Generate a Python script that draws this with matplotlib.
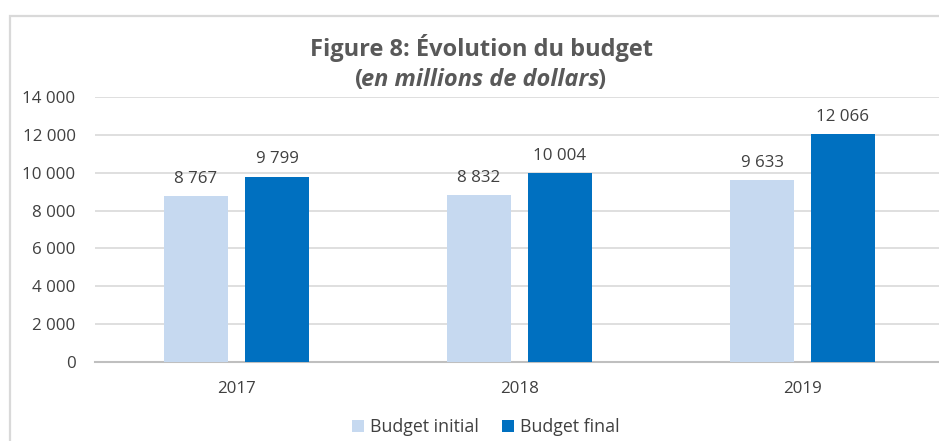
import matplotlib.pyplot as plt
import numpy as np
from matplotlib.patches import Rectangle

plt.rcParams['font.family'] = ['Open Sans', 'DejaVu Sans']

years = ['2017', '2018', '2019']
budget_initial = [8767, 8832, 9633]
budget_final = [9799, 10004, 12066]
yticks = [0, 2000, 4000, 6000, 8000, 10000, 12000, 14000]


def fmt(v):
    return f'{v:,}'.replace(',', ' ')


fig = plt.figure(figsize=(9.39, 4.41), dpi=100)
# frame around the chart (runs off the right and bottom edges)
fig.patches.append(Rectangle((9.5 / 939, -0.1), 1.1, 1 - 15.5 / 441 + 0.1,
                             transform=fig.transFigure, fill=False,
                             edgecolor='#d9d9d9', linewidth=1.6))

ax = fig.add_axes([95 / 939, 1 - 362 / 441, 849 / 939, 265 / 441])
x = np.arange(len(years))
w = 0.224
off = 0.143
light = '#c6d9f0'
dark = '#0070c0'
txt = '#404040'
b1 = ax.bar(x - off, budget_initial, w, color=light, label='Budget initial', zorder=3)
b2 = ax.bar(x + off, budget_final, w, color=dark, label='Budget final', zorder=3)

for bars, vals in ((b1, budget_initial), (b2, budget_final)):
    for r, v in zip(bars, vals):
        ax.text(r.get_x() + r.get_width() / 2, v + 480, fmt(v),
                ha='center', va='bottom', fontsize=12.2, color=txt)

ax.set_xlim(-0.5, 2.5)
ax.set_ylim(0, 14000)
ax.set_yticks(yticks)
ax.set_yticklabels([fmt(t) for t in yticks])
ax.set_xticks(x)
ax.set_xticklabels(years)
ax.tick_params(length=0, labelsize=12.2, labelcolor=txt)
ax.tick_params(axis='x', pad=14)
ax.tick_params(axis='y', pad=14)
ax.grid(axis='y', color='#d9d9d9', linewidth=1.2, zorder=0)
for s in ['top', 'right', 'left']:
    ax.spines[s].set_visible(False)
ax.spines['bottom'].set_color('#bfbfbf')
ax.spines['bottom'].set_linewidth(1.5)

title_col = '#595959'
fig.text(481.5 / 939, 1 - 48 / 441, 'Figure 8: Évolution du budget',
         ha='center', va='center', fontsize=17, fontweight='bold', color=title_col)
mid = fig.text(480 / 939, 1 - 80 / 441, 'en millions de dollars',
               ha='center', va='center', fontsize=17, fontweight='bold',
               fontstyle='italic', color=title_col)
ax.annotate('(', xy=(0, 0.5), xycoords=mid, ha='right', va='center',
            fontsize=17, fontweight='bold', color=title_col, xytext=(1.5, 0),
            textcoords='offset points')
ax.annotate(')', xy=(1, 0.5), xycoords=mid, ha='left', va='center',
            fontsize=17, fontweight='bold', color=title_col, xytext=(-1.5, 0),
            textcoords='offset points')

fig.legend(handles=[b1, b2], loc='center', bbox_to_anchor=(486 / 939, 1 - 427 / 441),
           ncol=2, frameon=False, fontsize=12.8, handlelength=0.65, handleheight=0.65,
           handletextpad=0.35, columnspacing=1.3, labelcolor=txt)

fig.savefig('out.png', dpi=100)
